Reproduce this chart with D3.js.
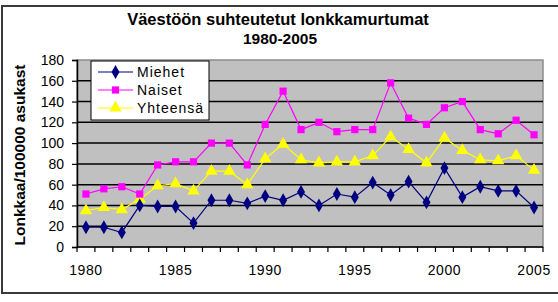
<!DOCTYPE html>
<html><head><meta charset="utf-8">
<script src="https://cdn.jsdelivr.net/npm/d3@7"></script>
<style>body{margin:0;background:#fff}svg{display:block;font-family:Arial,"Liberation Sans",sans-serif}</style>
</head><body><svg id="c" width="558" height="302"></svg>
<script>
const years = d3.range(1980, 2006);
const miehet = [19,19,14,40,39,39,23,45,45,42,49,45,53,40,51,48,62,50,63,43,76,48,58,54,54,38];
const naiset = [51,56,58,51,79,82,82,100,100,79,118,150,113,120,111,113,113,158,124,118,134,140,113,109,122,108];
const yhteensa = [35,38,36,46,59,61,54,73,73,60,85,99,84,81,82,82,88,106,94,81,105,93,84,83,88,74];
const yTicks = [0,20,40,60,80,100,120,140,160,180];
const xLabels = [1980,1985,1990,1995,2000,2005];
const title1 = "Väestöön suhteutetut lonkkamurtumat";
const title2 = "1980-2005";
const yTitle = "Lonkkaa/100000 asukast";

const svg = d3.select("#c");
const L = 77, R = 543, T = 60, B = 247;

// outer frame
svg.append("rect").attr("x",2).attr("y",6).attr("width",570).attr("height",287)
  .attr("fill","none").attr("stroke","#3a3a3a").attr("stroke-width",2);

const x = d3.scaleBand().domain(years).range([L, R]);
const y = d3.scaleLinear().domain([0,180]).range([B, T]);

svg.append("rect").attr("x",L).attr("y",T).attr("width",R-L).attr("height",B-T)
  .attr("fill","#C0C0C0").attr("stroke","#8c8c8c").attr("stroke-width",1.5);

// gridlines
svg.append("g").selectAll("line").data(yTicks.filter(d=>d>0 && d<180)).join("line")
  .attr("x1",L).attr("x2",R).attr("y1",d=>y(d)).attr("y2",d=>y(d))
  .attr("stroke","#000").attr("stroke-width",1.5);

// y axis
const ya = svg.append("g").attr("transform",`translate(${L},0)`)
  .call(d3.axisLeft(y).tickValues(yTicks).tickSize(5).tickPadding(8));
ya.select(".domain").attr("stroke","#000").attr("stroke-width",1.5);
ya.selectAll(".tick line").attr("stroke","#000").attr("stroke-width",1.2);
ya.selectAll("text").attr("font-size",14).attr("fill","#000").attr("font-family","Arial, Liberation Sans, sans-serif");

// x axis
const boundaries = d3.range(0, years.length+1).map(i => L + i*x.step());
const xg = svg.append("g");
xg.append("line").attr("x1",L).attr("x2",R).attr("y1",B).attr("y2",B).attr("stroke","#000").attr("stroke-width",1.5);
xg.selectAll("line.t").data(boundaries).join("line").attr("class","t")
  .attr("x1",d=>d).attr("x2",d=>d).attr("y1",B).attr("y2",B+5).attr("stroke","#000").attr("stroke-width",1.2);
xg.selectAll("text").data(xLabels).join("text")
  .attr("x",d=>x(d)+x.bandwidth()/2).attr("y",275).attr("text-anchor","middle")
  .attr("font-size",14).attr("letter-spacing",0.6).text(d=>d);

// titles
svg.append("text").attr("x",278).attr("y",25).attr("text-anchor","middle").attr("font-weight","bold")
  .attr("font-size",16.5).text(title1);
svg.append("text").attr("x",280).attr("y",44).attr("text-anchor","middle").attr("font-weight","bold")
  .attr("font-size",15.5).text(title2);
svg.append("text").attr("transform","translate(25,155) rotate(-90)").attr("text-anchor","middle")
  .attr("font-weight","bold").attr("font-size",15.5).text(yTitle);

const cx = d => x(d) + x.bandwidth()/2;
const series = [
  {name:"Miehet", values:miehet, color:"#000080", sym:d3.symbolDiamond, size:55},
  {name:"Naiset", values:naiset, color:"#FF00FF", sym:d3.symbolSquare, size:52},
  {name:"Yhteensä", values:yhteensa, color:"#FFFF00", sym:d3.symbolTriangle, size:66}
];
const line = d3.line().x((v,i)=>cx(years[i])).y(v=>y(v));
[series[2], series[1], series[0]].forEach(s => {
  svg.append("path").attr("d", line(s.values)).attr("fill","none").attr("stroke",s.color).attr("stroke-width",1.2);
  svg.append("g").selectAll("path").data(s.values).join("path")
    .attr("transform",(v,i)=>`translate(${cx(years[i])},${y(v)})`)
    .attr("d", d3.symbol().type(s.sym).size(s.size)()).attr("fill",s.color);
});

// legend
const lg = svg.append("g");
lg.append("rect").attr("x",91).attr("y",61).attr("width",118).attr("height",59)
  .attr("fill","#fff").attr("stroke","#000").attr("stroke-width",1);
series.forEach((s,i) => {
  const yy = 72 + i*18;
  lg.append("line").attr("x1",98).attr("x2",133).attr("y1",yy).attr("y2",yy).attr("stroke",s.color).attr("stroke-width",1.2);
  lg.append("path").attr("transform",`translate(115.5,${yy})`).attr("d", d3.symbol().type(s.sym).size(s.size)()).attr("fill",s.color);
  lg.append("text").attr("x",137).attr("y",yy+5).attr("font-size",14).attr("letter-spacing",1).text(s.name);
});
</script></body></html>
